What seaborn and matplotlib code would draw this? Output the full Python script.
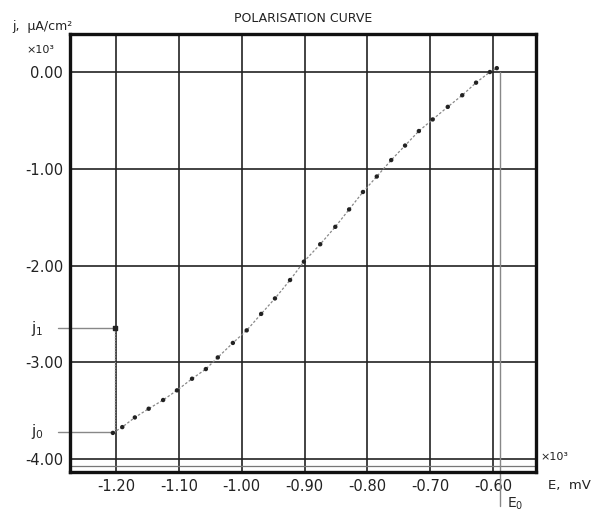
import numpy as np
import pandas as pd
import seaborn as sns
import matplotlib.pyplot as plt

# potentiel (mV x10^3) et densite de courant (uA/cm2 x10^3)
potentiel = [-1.205, -1.190, -1.170, -1.148, -1.125, -1.103, -1.079, -1.057,
             -1.038, -1.014, -0.992, -0.969, -0.947, -0.923, -0.901, -0.875,
             -0.851, -0.829, -0.807, -0.785, -0.762, -0.740, -0.718, -0.696,
             -0.672, -0.649, -0.627, -0.605, -0.594]
courant = [-3.73, -3.67, -3.57, -3.48, -3.39, -3.29, -3.17, -3.07,
           -2.95, -2.80, -2.67, -2.50, -2.34, -2.15, -1.96, -1.78,
           -1.60, -1.42, -1.24, -1.08, -0.91, -0.76, -0.61, -0.49,
           -0.36, -0.24, -0.11, 0.00, 0.04]

x_ticks = [-1.20, -1.10, -1.00, -0.90, -0.80, -0.70, -0.60]
y_ticks = [0.00, -1.00, -2.00, -3.00, -4.00]

j1 = -2.65   # courant j1
j0 = -3.72   # courant j0
e_pot = -0.589  # potentiel E0

df = pd.DataFrame({"E": potentiel, "j": courant})

sns.set_style("white")
plt.rcParams["font.family"] = ["DejaVu Sans"]
plt.rcParams["axes.unicode_minus"] = False

fig = plt.figure(figsize=(5.91, 5.13), dpi=100)
ax = fig.add_axes([70 / 591, 41 / 513, 466 / 591, 438 / 513])

# grille
for xv in x_ticks:
    ax.axvline(xv, color="#222222", lw=1.2, zorder=1)
for yv in y_ticks:
    ax.axhline(yv, color="#222222", lw=1.2, zorder=1)
ax.axhline(-4.07, color="#777777", lw=0.9, zorder=1)

# courbe de polarisation
sns.lineplot(data=df, x="E", y="j", ax=ax, color="#888888", lw=0.9,
             linestyle=(0, (2, 1.5)), sort=False, zorder=3)
sns.scatterplot(data=df, x="E", y="j", ax=ax, color="#222222", s=10,
                edgecolor="none", zorder=4)

# segment vertical j1 -> j0
ax.plot([-1.201, -1.201], [j1, j0], color="#888888", lw=1.0,
        linestyle=(0, (1, 1)), zorder=3)
ax.scatter([-1.201], [j1], marker="s", s=10, color="#222222", zorder=4)

# repères j1 / j0 a gauche
ax.plot([-1.292, -1.201], [j1, j1], color="#888888", lw=1.0, clip_on=False)
ax.plot([-1.292, -1.205], [j0, j0], color="#888888", lw=1.0, clip_on=False)
ax.text(-1.325, j1, "j$_1$", ha="center", va="center", fontsize=11, clip_on=False)
ax.text(-1.325, j0, "j$_0$", ha="center", va="center", fontsize=11, clip_on=False)

# repère E0
ax.plot([e_pot, e_pot], [0.0, -4.49], color="#888888", lw=1.0, clip_on=False)
ax.text(e_pot + 0.012, -4.46, "E$_0$", ha="left", va="center", fontsize=10)

ax.set_xlim(-1.2732, -0.5316)
ax.set_ylim(-4.134, 0.393)
ax.set_xticks(x_ticks)
ax.set_xticklabels([f"{v:.2f}" for v in x_ticks])
ax.set_yticks(y_ticks)
ax.set_yticklabels([f"{v:.2f}" for v in y_ticks])
ax.tick_params(length=0, labelsize=10.5, pad=5, colors="#222222")
ax.set_xlabel("")
ax.set_ylabel("")

for s in ax.spines.values():
    s.set_color("#111111")
    s.set_linewidth(2.4)
    s.set_visible(True)

# textes
fig.text(303 / 591, 1 - 18 / 513, "POLARISATION CURVE", ha="center",
         va="center", fontsize=9, color="#222222")
fig.text(12 / 591, 1 - 27 / 513, "j,  µA/cm²", ha="left", va="center",
         fontsize=9, color="#222222")
fig.text(26 / 591, 1 - 50 / 513, "×10³", ha="left", va="center",
         fontsize=8, color="#222222")
fig.text(540 / 591, 1 - 457 / 513, "×10³", ha="left", va="center",
         fontsize=8, color="#222222")
fig.text(548 / 591, 1 - 485 / 513, "E,  mV", ha="left", va="center",
         fontsize=9.5, color="#222222")

fig.savefig("out.png", dpi=100)
